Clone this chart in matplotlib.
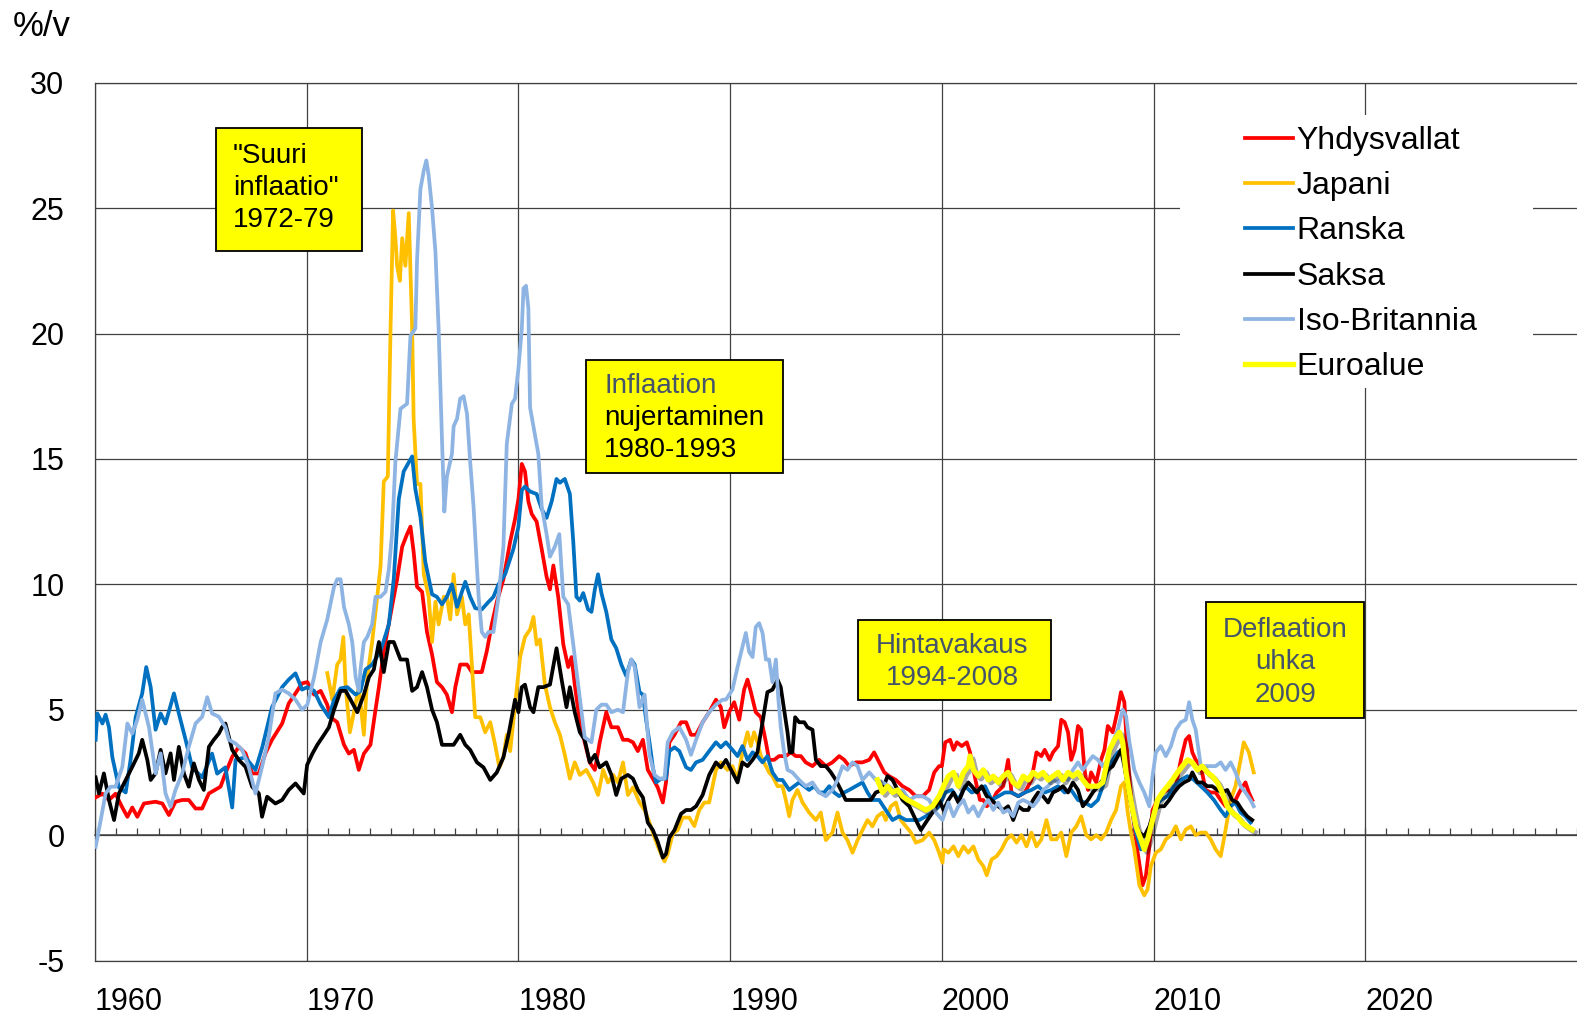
import matplotlib
matplotlib.use("Agg")
import matplotlib.pyplot as plt
import matplotlib.patheffects as pe
from matplotlib.patches import Rectangle
from matplotlib.ticker import MultipleLocator

plt.rcParams['font.family'] = ['Liberation Sans', 'DejaVu Sans']
plt.rcParams['axes.unicode_minus'] = False

# --- data (year, % per year) ---
us_t = [1960.03, 1960.35, 1960.66, 1960.97, 1961.29, 1961.53, 1961.76, 1962.0, 1962.31, 1962.86,
        1963.18, 1963.49, 1963.8, 1964.12, 1964.43, 1964.75, 1965.06, 1965.38, 1965.93, 1966.16,
        1966.48, 1966.79, 1967.11, 1967.42, 1967.74, 1968.05, 1968.36, 1968.84, 1969.15, 1969.47,
        1969.78, 1970.03, 1970.35, 1970.66, 1970.97, 1971.13, 1971.44, 1971.76, 1971.99, 1972.23,
        1972.46, 1972.7, 1973.01, 1973.25, 1973.41, 1973.64, 1973.96, 1974.27, 1974.51, 1974.74,
        1974.9, 1975.05, 1975.21, 1975.45, 1975.68, 1975.92, 1976.15, 1976.39, 1976.62, 1976.86,
        1977.02, 1977.25, 1977.57, 1977.8, 1978.04, 1978.27, 1978.51, 1978.74, 1978.98, 1979.29,
        1979.61, 1979.84, 1980.0, 1980.16, 1980.31, 1980.47, 1980.63, 1980.86, 1981.1, 1981.33,
        1981.49, 1981.65, 1981.88, 1982.12, 1982.35, 1982.51, 1982.66, 1982.9, 1983.13, 1983.37,
        1983.61, 1983.84, 1984.15, 1984.39, 1984.7, 1984.94, 1985.17, 1985.41, 1985.64, 1985.88,
        1986.11, 1986.35, 1986.58, 1986.82, 1986.97, 1987.13, 1987.37, 1987.68, 1987.92, 1988.15,
        1988.39, 1988.7, 1989.01, 1989.33, 1989.56, 1989.72, 1989.95, 1990.19, 1990.43, 1990.66,
        1990.82, 1990.98, 1991.21, 1991.45, 1991.69, 1991.84, 1992.08, 1992.31, 1992.63, 1992.87,
        1993.1, 1993.34, 1993.57, 1993.89, 1994.2, 1994.52, 1994.83, 1995.15, 1995.39, 1995.62,
        1995.94, 1996.25, 1996.57, 1996.8, 1997.04, 1997.28, 1997.51, 1997.83, 1998.14, 1998.46,
        1998.77, 1999.09, 1999.4, 1999.64, 1999.87, 2000.0, 2000.16, 2000.39, 2000.55, 2000.71,
        2000.94, 2001.18, 2001.33, 2001.49, 2001.65, 2001.8, 2001.96, 2002.12, 2002.35, 2002.59,
        2002.9, 2003.13, 2003.29, 2003.61, 2003.92, 2004.23, 2004.47, 2004.7, 2004.86, 2005.09,
        2005.25, 2005.49, 2005.64, 2005.8, 2005.96, 2006.11, 2006.27, 2006.43, 2006.58, 2006.74,
        2006.9, 2007.05, 2007.29, 2007.52, 2007.68, 2007.84, 2008.07, 2008.31, 2008.46, 2008.62,
        2008.78, 2009.01, 2009.25, 2009.48, 2009.64, 2009.8, 2009.95, 2010.19, 2010.42, 2010.66,
        2010.89, 2011.05, 2011.29, 2011.52, 2011.68, 2011.83, 2011.99, 2012.23, 2012.46, 2012.7,
        2012.93, 2013.17, 2013.4, 2013.64, 2013.87, 2014.11, 2014.34, 2014.5, 2014.66]
us_v = [1.5, 1.65, 1.4, 1.65, 1.1, 0.73, 1.1, 0.73, 1.26, 1.33,
        1.26, 0.8, 1.33, 1.4, 1.4, 1.06, 1.06, 1.66, 1.93, 2.46,
        3.12, 3.52, 3.26, 2.46, 2.46, 3.26, 3.8, 4.45, 5.25, 5.65,
        6.05, 6.1, 5.6, 5.75, 5.2, 4.7, 4.5, 3.6, 3.25, 3.4,
        2.6, 3.25, 3.6, 5.0, 5.9, 7.35, 8.8, 10.2, 11.5, 12.0,
        12.3, 11.3, 9.9, 9.7, 8.1, 7.2, 6.1, 5.9, 5.6, 4.9,
        5.9, 6.8, 6.8, 6.5, 6.5, 6.5, 7.35, 8.4, 9.3, 10.2,
        11.7, 12.6, 13.4, 14.8, 14.5, 13.3, 12.8, 12.5, 11.4, 10.3,
        9.8, 10.75, 9.5, 7.6, 6.7, 7.1, 6.0, 4.5, 3.7, 2.9,
        2.6, 3.7, 4.9, 4.3, 4.3, 3.8, 3.8, 3.7, 3.35, 3.8,
        2.6, 2.25, 1.9, 1.3, 2.1, 3.7, 4.0, 4.5, 4.5, 4.0,
        4.0, 4.5, 4.9, 5.4, 5.1, 4.3, 4.9, 5.3, 4.6, 5.8,
        6.2, 5.7, 4.9, 4.7, 3.7, 3.0, 3.0, 3.15, 3.15, 3.3,
        3.15, 3.15, 2.9, 2.75, 3.0, 2.75, 2.9, 3.15, 3.0, 2.75,
        2.9, 2.9, 3.0, 3.3, 2.9, 2.5, 2.35, 2.2, 1.95, 1.8,
        1.55, 1.55, 1.8, 2.5, 2.75, 2.75, 3.7, 3.8, 3.4, 3.7,
        3.55, 3.7, 3.3, 2.6, 1.95, 1.4, 1.4, 1.15, 1.3, 1.7,
        1.95, 3.0, 1.7, 1.55, 1.7, 2.2, 3.3, 3.15, 3.4, 3.0,
        3.3, 3.55, 4.6, 4.5, 4.1, 3.0, 3.4, 4.35, 4.2, 2.6,
        1.8, 2.5, 2.1, 3.0, 3.4, 4.35, 4.1, 5.0, 5.7, 5.3,
        3.0, 0.9, -0.7, -2.0, -1.6, -0.45, 1.0, 1.4, 1.7, 1.8,
        1.7, 1.95, 3.0, 3.8, 3.95, 3.3, 3.0, 2.75, 1.8, 1.7,
        1.7, 1.4, 1.15, 1.15, 1.4, 1.8, 2.1, 1.7, 1.4]

jp_t = [1970.97, 1971.21, 1971.44, 1971.6, 1971.73, 1971.84, 1972.04, 1972.23, 1972.46, 1972.7,
        1972.86, 1973.09, 1973.33, 1973.49, 1973.64, 1973.83, 1973.96, 1974.08, 1974.19, 1974.27,
        1974.4, 1974.51, 1974.66, 1974.82, 1974.9, 1974.98, 1975.05, 1975.21, 1975.37, 1975.53,
        1975.76, 1975.92, 1976.08, 1976.23, 1976.47, 1976.62, 1976.78, 1976.94, 1977.1, 1977.33,
        1977.49, 1977.65, 1977.8, 1977.96, 1978.2, 1978.43, 1978.67, 1978.9, 1979.1, 1979.29,
        1979.45, 1979.61, 1979.84, 1980.08, 1980.31, 1980.55, 1980.71, 1980.86, 1981.02, 1981.25,
        1981.49, 1981.72, 1981.96, 1982.19, 1982.43, 1982.66, 1982.9, 1983.21, 1983.53, 1983.76,
        1984.0, 1984.23, 1984.47, 1984.7, 1984.94, 1985.17, 1985.41, 1985.72, 1985.96, 1986.19,
        1986.43, 1986.66, 1986.9, 1987.05, 1987.29, 1987.52, 1987.76, 1988.07, 1988.31, 1988.54,
        1988.78, 1989.01, 1989.33, 1989.56, 1989.87, 1990.11, 1990.35, 1990.58, 1990.82, 1990.98,
        1991.13, 1991.29, 1991.45, 1991.69, 1991.84, 1992.0, 1992.24, 1992.47, 1992.63, 1992.79,
        1992.94, 1993.18, 1993.42, 1993.73, 1994.05, 1994.28, 1994.52, 1994.83, 1995.07, 1995.31,
        1995.54, 1995.78, 1996.02, 1996.25, 1996.49, 1996.72, 1996.96, 1997.2, 1997.35, 1997.59,
        1997.83, 1998.06, 1998.3, 1998.54, 1998.77, 1999.09, 1999.4, 1999.64, 1999.87, 2000.03,
        2000.08, 2000.31, 2000.55, 2000.78, 2001.02, 2001.25, 2001.49, 2001.72, 2001.96, 2002.12,
        2002.35, 2002.59, 2002.82, 2003.06, 2003.29, 2003.53, 2003.76, 2004.0, 2004.23, 2004.47,
        2004.7, 2004.94, 2005.17, 2005.41, 2005.64, 2005.88, 2006.11, 2006.35, 2006.58, 2006.82,
        2007.05, 2007.29, 2007.52, 2007.76, 2007.99, 2008.23, 2008.46, 2008.62, 2008.78, 2008.93,
        2009.09, 2009.33, 2009.56, 2009.72, 2009.87, 2010.11, 2010.34, 2010.58, 2010.82, 2011.05,
        2011.29, 2011.52, 2011.76, 2011.99, 2012.23, 2012.46, 2012.7, 2012.93, 2013.17, 2013.32,
        2013.48, 2013.64, 2013.87, 2014.11, 2014.26, 2014.5, 2014.73]
jp_v = [6.46, 5.4, 6.8, 7.0, 7.9, 5.9, 4.1, 4.9, 5.9, 4.0,
        6.3, 7.7, 9.5, 10.75, 14.1, 14.3, 20.2, 24.9, 23.8, 22.7,
        22.1, 23.8, 22.7, 24.8, 22.5, 20.2, 16.6, 14.0, 14.0, 10.4,
        9.5, 7.7, 9.3, 8.4, 9.5, 9.5, 8.6, 10.4, 8.8, 9.5,
        8.4, 8.8, 6.8, 4.7, 4.7, 4.1, 4.5, 3.6, 2.7, 3.1,
        4.0, 3.35, 5.2, 7.1, 7.9, 8.2, 8.7, 7.6, 7.8, 6.0,
        5.1, 4.5, 4.0, 3.2, 2.25, 2.9, 2.4, 2.6, 2.1, 1.6,
        2.6, 2.1, 2.4, 2.1, 2.9, 1.6, 1.9, 1.3, 1.0, 0.5,
        -0.1, -0.6, -1.05, -0.75, 0.05, 0.2, 0.7, 0.7, 0.36, 1.0,
        1.3, 1.3, 2.6, 2.9, 2.6, 2.75, 2.2, 3.3, 4.1, 3.55,
        4.1, 3.7, 3.15, 2.75, 2.5, 2.35, 1.95, 1.95, 1.4, 0.75,
        1.4, 1.8, 1.3, 0.9, 0.6, 0.9, -0.2, 0.1, 0.9, 0.1,
        -0.2, -0.7, -0.2, 0.2, 0.6, 0.35, 0.75, 0.9, 0.6, 1.15,
        1.3, 0.6, 0.35, 0.1, -0.3, -0.2, 0.1, -0.2, -0.7, -1.1,
        -0.57, -0.7, -0.45, -0.84, -0.45, -0.7, -0.45, -0.97, -1.24, -1.6,
        -0.97, -0.84, -0.57, -0.17, 0.0, -0.3, 0.0, -0.45, 0.1, -0.45,
        -0.17, 0.6, -0.17, -0.17, 0.1, -0.84, 0.1, 0.35, 0.75, 0.0,
        -0.17, 0.0, -0.17, 0.1, 0.6, 1.0, 1.95, 2.1, 0.9, 0.1,
        -0.57, -2.0, -2.4, -2.16, -1.24, -0.7, -0.57, -0.17, 0.0, 0.35,
        -0.17, 0.22, 0.35, 0.0, 0.1, 0.1, -0.17, -0.57, -0.84, -0.17,
        0.6, 1.4, 1.95, 3.0, 3.7, 3.3, 2.5]

fr_t = [1960.03, 1960.11, 1960.35, 1960.5, 1960.66, 1960.82, 1961.13, 1961.45, 1961.68, 1961.92,
        1962.23, 1962.42, 1962.63, 1962.86, 1963.1, 1963.33, 1963.73, 1963.96, 1964.28, 1964.59,
        1965.06, 1965.53, 1965.77, 1966.16, 1966.48, 1966.64, 1967.1, 1967.58, 1967.9, 1968.36,
        1968.84, 1969.15, 1969.47, 1969.78, 1970.03, 1970.35, 1970.66, 1971.05, 1971.29, 1971.6,
        1971.92, 1972.31, 1972.54, 1972.78, 1973.09, 1973.49, 1973.88, 1974.11, 1974.35, 1974.58,
        1974.98, 1975.13, 1975.37, 1975.6, 1975.92, 1976.15, 1976.39, 1976.62, 1976.86, 1977.1,
        1977.33, 1977.49, 1977.72, 1977.96, 1978.27, 1978.59, 1978.82, 1979.06, 1979.37, 1979.76,
        1980.0, 1980.16, 1980.31, 1980.55, 1980.86, 1981.1, 1981.33, 1981.57, 1981.8, 1981.96,
        1982.19, 1982.43, 1982.59, 1982.74, 1982.9, 1983.06, 1983.29, 1983.45, 1983.61, 1983.76,
        1983.92, 1984.15, 1984.39, 1984.62, 1984.86, 1985.09, 1985.33, 1985.49, 1985.72, 1985.88,
        1986.03, 1986.19, 1986.35, 1986.5, 1986.74, 1986.97, 1987.13, 1987.37, 1987.6, 1987.92,
        1988.15, 1988.39, 1988.7, 1989.01, 1989.33, 1989.56, 1989.8, 1990.11, 1990.35, 1990.58,
        1990.82, 1991.06, 1991.29, 1991.53, 1991.76, 1992.0, 1992.24, 1992.47, 1992.79, 1993.02,
        1993.26, 1993.5, 1993.73, 1993.97, 1994.2, 1994.44, 1994.68, 1994.91, 1995.15, 1995.39,
        1995.62, 1995.94, 1996.25, 1996.49, 1996.72, 1997.04, 1997.35, 1997.67, 1997.98, 1998.3,
        1998.61, 1998.93, 1999.24, 1999.56, 1999.87, 2000.16, 2000.47, 2000.78, 2001.1, 2001.41,
        2001.72, 2002.04, 2002.35, 2002.66, 2002.98, 2003.29, 2003.61, 2003.92, 2004.23, 2004.55,
        2004.86, 2005.17, 2005.49, 2005.8, 2006.11, 2006.43, 2006.74, 2007.05, 2007.37, 2007.6,
        2007.84, 2008.07, 2008.31, 2008.54, 2008.7, 2008.93, 2009.17, 2009.4, 2009.64, 2009.87,
        2010.11, 2010.34, 2010.66, 2010.97, 2011.29, 2011.6, 2011.91, 2012.23, 2012.54, 2012.85,
        2013.17, 2013.4, 2013.64, 2013.87, 2014.11, 2014.34, 2014.58]
fr_v = [3.8, 4.85, 4.45, 4.8, 4.3, 3.1, 1.9, 1.7, 3.0, 4.7,
        5.65, 6.7, 5.9, 4.2, 4.85, 4.45, 5.65, 4.85, 3.8, 2.7,
        2.3, 3.25, 2.45, 2.7, 1.1, 3.0, 3.1, 2.6, 3.5, 5.1,
        5.9, 6.2, 6.45, 5.8, 5.9, 5.75, 5.2, 4.7, 5.4, 5.85,
        5.9, 5.6, 5.75, 6.6, 6.8, 7.35, 8.4, 10.2, 13.4, 14.5,
        15.1, 13.8, 12.7, 10.9, 9.6, 9.5, 9.2, 9.5, 10.0, 9.1,
        9.7, 10.1, 9.5, 9.05, 9.0, 9.3, 9.5, 10.0, 10.4, 11.4,
        12.3, 13.75, 13.9, 13.7, 13.6, 13.0, 12.65, 13.3, 14.2, 14.05,
        14.2, 13.6, 11.7, 9.5, 9.35, 9.65, 9.0, 8.9, 9.8, 10.4,
        9.65, 8.9, 7.8, 7.45, 6.8, 6.35, 7.0, 6.8, 5.7, 5.6,
        4.6, 3.7, 2.7, 2.1, 2.25, 2.25, 3.35, 3.5, 3.35, 2.7,
        2.6, 2.9, 3.0, 3.35, 3.7, 3.5, 3.7, 3.4, 3.15, 3.55,
        3.0, 3.3, 3.15, 2.9, 3.15, 2.5, 2.2, 2.2, 1.8, 1.95,
        2.1, 1.95, 1.8, 1.95, 1.7, 1.7, 1.95, 1.7, 1.55, 1.7,
        1.8, 1.95, 2.1, 1.7, 1.4, 1.4, 1.0, 0.6, 0.75, 0.6,
        0.6, 0.6, 0.75, 0.9, 1.15, 1.7, 1.8, 1.4, 1.95, 1.7,
        1.8, 1.95, 1.4, 1.55, 1.7, 1.7, 1.55, 1.7, 1.8, 1.95,
        1.7, 1.8, 1.95, 1.7, 1.8, 1.4, 1.3, 1.15, 1.4, 1.95,
        2.6, 3.0, 3.3, 3.4, 2.6, 1.3, 0.1, -0.57, -0.45, 0.35,
        1.15, 1.4, 1.55, 1.95, 2.2, 2.35, 2.2, 1.95, 1.7, 1.4,
        1.0, 0.75, 1.15, 1.3, 0.9, 0.75, 0.5]

de_t = [1960.03, 1960.19, 1960.42, 1960.66, 1960.9, 1961.13, 1961.45, 1961.76, 1962.07, 1962.23,
        1962.47, 1962.63, 1962.86, 1963.1, 1963.33, 1963.57, 1963.73, 1963.96, 1964.2, 1964.43,
        1964.67, 1964.91, 1965.14, 1965.38, 1965.61, 1965.85, 1966.0, 1966.16, 1966.48, 1966.79,
        1967.11, 1967.42, 1967.74, 1967.89, 1968.13, 1968.52, 1968.84, 1969.15, 1969.47, 1969.86,
        1970.02, 1970.27, 1970.5, 1970.82, 1971.05, 1971.29, 1971.6, 1971.84, 1972.07, 1972.39,
        1972.7, 1972.94, 1973.17, 1973.41, 1973.64, 1973.88, 1974.11, 1974.43, 1974.74, 1974.98,
        1975.21, 1975.45, 1975.68, 1975.92, 1976.15, 1976.39, 1976.62, 1976.94, 1977.25, 1977.49,
        1977.72, 1978.04, 1978.35, 1978.67, 1978.98, 1979.29, 1979.53, 1979.84, 1980.0, 1980.16,
        1980.31, 1980.55, 1980.71, 1980.94, 1981.18, 1981.49, 1981.8, 1982.04, 1982.27, 1982.43,
        1982.66, 1982.9, 1983.13, 1983.37, 1983.61, 1983.84, 1984.15, 1984.39, 1984.62, 1984.86,
        1985.17, 1985.41, 1985.64, 1985.88, 1986.11, 1986.35, 1986.58, 1986.82, 1986.97, 1987.13,
        1987.37, 1987.68, 1987.92, 1988.15, 1988.39, 1988.7, 1989.01, 1989.33, 1989.56, 1989.8,
        1990.11, 1990.35, 1990.58, 1990.82, 1991.06, 1991.29, 1991.53, 1991.76, 1992.0, 1992.24,
        1992.39, 1992.55, 1992.71, 1992.82, 1992.94, 1993.07, 1993.26, 1993.5, 1993.65, 1993.89,
        1994.05, 1994.28, 1994.52, 1994.76, 1994.99, 1995.23, 1995.46, 1995.78, 1996.09, 1996.41,
        1996.65, 1996.88, 1997.2, 1997.43, 1997.67, 1997.91, 1998.14, 1998.46, 1998.77, 1999.01,
        1999.24, 1999.56, 1999.87, 2000.08, 2000.31, 2000.55, 2000.78, 2001.02, 2001.25, 2001.41,
        2001.65, 2001.88, 2002.12, 2002.35, 2002.66, 2002.9, 2003.13, 2003.37, 2003.61, 2003.84,
        2004.08, 2004.31, 2004.55, 2004.78, 2005.02, 2005.25, 2005.49, 2005.72, 2005.96, 2006.19,
        2006.43, 2006.66, 2006.9, 2007.13, 2007.37, 2007.6, 2007.84, 2008.07, 2008.31, 2008.46,
        2008.62, 2008.86, 2009.09, 2009.33, 2009.56, 2009.8, 2010.03, 2010.27, 2010.5, 2010.74,
        2010.97, 2011.21, 2011.44, 2011.68, 2011.83, 2012.07, 2012.3, 2012.54, 2012.77, 2013.01,
        2013.24, 2013.48, 2013.71, 2013.95, 2014.18, 2014.42, 2014.66]
de_v = [2.3, 1.66, 2.46, 1.4, 0.6, 1.66, 2.2, 2.72, 3.26, 3.8,
        3.0, 2.2, 2.46, 3.4, 2.46, 3.26, 2.2, 3.52, 2.46, 1.93,
        2.86, 2.2, 1.8, 3.52, 3.8, 4.05, 4.3, 4.45, 3.4, 3.0,
        2.72, 1.93, 1.66, 0.73, 1.53, 1.26, 1.4, 1.8, 2.06, 1.66,
        2.8, 3.25, 3.6, 4.0, 4.3, 5.0, 5.75, 5.75, 5.4, 4.9,
        5.6, 6.3, 6.6, 7.7, 6.5, 7.7, 7.7, 7.0, 7.0, 5.75,
        5.9, 6.5, 5.9, 5.0, 4.5, 3.6, 3.6, 3.6, 4.0, 3.6,
        3.4, 2.9, 2.7, 2.2, 2.5, 3.1, 4.0, 5.4, 4.9, 5.9,
        6.0, 5.1, 4.9, 5.9, 5.9, 6.0, 7.45, 6.2, 5.1, 5.9,
        4.9, 4.1, 3.8, 2.9, 3.2, 2.7, 2.9, 2.4, 1.6, 2.25,
        2.4, 2.25, 1.8, 1.5, 0.5, 0.2, -0.27, -0.9, -0.75, -0.1,
        0.2, 0.85, 1.0, 1.0, 1.15, 1.6, 2.4, 2.9, 2.7, 3.0,
        2.5, 2.1, 2.9, 2.75, 3.0, 3.3, 4.5, 5.7, 5.8, 6.2,
        5.9, 5.0, 4.1, 3.3, 3.3, 4.7, 4.5, 4.5, 4.3, 4.2,
        3.0, 2.75, 2.75, 2.5, 2.2, 1.8, 1.4, 1.4, 1.4, 1.4,
        1.4, 1.7, 1.8, 2.35, 2.2, 1.8, 1.4, 1.15, 0.6, 0.2,
        0.5, 0.9, 1.4, 1.0, 1.4, 1.7, 1.3, 1.8, 2.1, 1.95,
        1.7, 1.95, 1.55, 1.4, 1.15, 1.0, 1.15, 0.6, 1.15, 1.0,
        1.0, 1.4, 1.7, 1.55, 1.3, 1.7, 1.8, 1.95, 1.7, 2.1,
        1.8, 1.15, 1.4, 1.7, 1.95, 2.2, 2.6, 2.75, 3.15, 3.4,
        2.75, 1.55, 0.6, 0.1, -0.05, 0.35, 1.0, 1.15, 1.15, 1.4,
        1.7, 1.95, 2.1, 2.2, 2.5, 2.1, 2.1, 1.95, 1.95, 1.8,
        1.7, 1.8, 1.4, 1.3, 1.0, 0.75, 0.6]

uk_t = [1960.03, 1960.27, 1960.5, 1960.74, 1960.97, 1961.29, 1961.53, 1961.76, 1962.0, 1962.23,
        1962.55, 1962.86, 1963.1, 1963.33, 1963.57, 1963.8, 1964.12, 1964.43, 1964.75, 1965.06,
        1965.3, 1965.53, 1965.85, 1966.16, 1966.32, 1966.64, 1966.95, 1967.26, 1967.58, 1967.89,
        1968.21, 1968.52, 1968.84, 1969.15, 1969.47, 1969.78, 1970.03, 1970.35, 1970.66, 1970.97,
        1971.29, 1971.44, 1971.6, 1971.76, 1971.99, 1972.15, 1972.31, 1972.46, 1972.54, 1972.7,
        1972.86, 1973.09, 1973.25, 1973.49, 1973.72, 1973.88, 1974.03, 1974.19, 1974.43, 1974.74,
        1974.9, 1975.13, 1975.21, 1975.37, 1975.53, 1975.65, 1975.76, 1975.92, 1976.08, 1976.23,
        1976.39, 1976.5, 1976.62, 1976.86, 1976.94, 1977.1, 1977.25, 1977.41, 1977.57, 1977.72,
        1977.88, 1978.12, 1978.27, 1978.43, 1978.59, 1978.82, 1979.06, 1979.29, 1979.45, 1979.69,
        1979.84, 1980.0, 1980.16, 1980.24, 1980.36, 1980.47, 1980.55, 1980.71, 1980.94, 1981.1,
        1981.33, 1981.49, 1981.72, 1981.93, 1982.12, 1982.35, 1982.59, 1982.82, 1983.13, 1983.45,
        1983.68, 1983.92, 1984.15, 1984.39, 1984.7, 1984.94, 1985.17, 1985.33, 1985.49, 1985.72,
        1985.96, 1986.19, 1986.43, 1986.66, 1986.9, 1987.05, 1987.29, 1987.6, 1987.92, 1988.15,
        1988.39, 1988.7, 1989.01, 1989.33, 1989.64, 1989.8, 1990.11, 1990.35, 1990.58, 1990.74,
        1990.9, 1991.06, 1991.21, 1991.37, 1991.53, 1991.69, 1991.84, 1992.0, 1992.16, 1992.28,
        1992.39, 1992.55, 1992.71, 1992.94, 1993.26, 1993.57, 1993.89, 1994.2, 1994.52, 1994.83,
        1995.07, 1995.31, 1995.54, 1995.78, 1996.02, 1996.25, 1996.57, 1996.88, 1997.2, 1997.51,
        1997.83, 1998.14, 1998.46, 1998.77, 1999.09, 1999.4, 1999.72, 2000.03, 2000.31, 2000.55,
        2000.78, 2001.02, 2001.25, 2001.49, 2001.72, 2001.96, 2002.19, 2002.43, 2002.66, 2002.9,
        2003.13, 2003.37, 2003.61, 2003.84, 2004.08, 2004.31, 2004.55, 2004.78, 2005.02, 2005.25,
        2005.49, 2005.72, 2005.96, 2006.19, 2006.43, 2006.66, 2006.9, 2007.13, 2007.37, 2007.6,
        2007.84, 2008.07, 2008.31, 2008.54, 2008.7, 2008.86, 2009.09, 2009.33, 2009.56, 2009.8,
        2009.95, 2010.11, 2010.34, 2010.58, 2010.82, 2011.05, 2011.29, 2011.52, 2011.68, 2011.83,
        2011.99, 2012.23, 2012.46, 2012.7, 2012.93, 2013.17, 2013.4, 2013.64, 2013.87, 2014.11,
        2014.34, 2014.58, 2014.73]
uk_v = [-0.47, 0.6, 1.66, 1.93, 1.93, 2.72, 4.45, 4.05, 4.6, 5.4,
        4.3, 2.46, 3.26, 1.66, 1.13, 1.8, 2.46, 3.52, 4.45, 4.72,
        5.5, 4.85, 4.72, 4.3, 3.8, 3.65, 3.4, 2.72, 1.66, 2.72,
        3.92, 5.65, 5.8, 5.65, 5.4, 5.0, 5.2, 6.3, 7.7, 8.6,
        9.9, 10.2, 10.2, 9.1, 8.4, 7.7, 6.3, 5.75, 6.6, 7.7,
        7.9, 8.4, 9.5, 9.5, 9.7, 10.6, 12.0, 14.9, 17.0, 17.2,
        19.9, 20.2, 22.9, 25.75, 26.5, 26.9, 26.3, 25.0, 23.25, 20.2,
        15.75, 12.9, 14.3, 15.2, 16.3, 16.6, 17.4, 17.5, 16.8, 14.9,
        13.1, 9.5, 8.1, 7.9, 8.1, 8.1, 9.5, 11.5, 15.6, 17.2,
        17.4, 18.6, 20.2, 21.8, 21.9, 21.0, 17.05, 16.3, 15.2, 13.1,
        12.0, 11.1, 11.5, 12.0, 9.5, 9.2, 7.6, 6.0, 3.9, 3.7,
        5.0, 5.2, 5.2, 4.9, 5.0, 4.9, 6.5, 7.0, 6.7, 5.1,
        5.6, 3.2, 2.4, 2.25, 2.25, 3.7, 4.1, 4.3, 3.8, 3.2,
        3.8, 4.5, 4.9, 5.2, 5.4, 5.4, 5.8, 6.7, 7.5, 8.06,
        7.3, 7.1, 8.3, 8.45, 8.06, 7.0, 7.0, 6.1, 7.0, 5.4,
        4.3, 3.3, 2.6, 2.5, 2.2, 1.95, 2.1, 1.7, 1.55, 1.8,
        2.2, 2.75, 2.6, 2.9, 2.75, 2.2, 2.5, 2.2, 2.1, 1.95,
        1.7, 1.8, 1.4, 1.55, 1.55, 1.4, 0.9, 0.6, 1.3, 0.75,
        1.15, 1.4, 0.9, 1.15, 0.75, 1.15, 1.4, 1.0, 1.3, 0.9,
        1.0, 0.75, 1.3, 1.4, 1.3, 1.15, 1.4, 1.8, 1.95, 2.2,
        2.1, 2.35, 2.2, 2.6, 2.9, 2.6, 2.9, 3.15, 3.0, 2.75,
        3.0, 3.7, 4.2, 5.0, 4.75, 3.7, 2.6, 2.1, 1.7, 1.15,
        2.35, 3.3, 3.55, 3.15, 3.55, 4.2, 4.5, 4.6, 5.3, 4.6,
        4.2, 2.75, 2.75, 2.75, 2.75, 2.9, 2.6, 2.9, 2.5, 1.95,
        1.7, 1.4, 1.15]

ez_t = [1996.96, 1997.2, 1997.43, 1997.67, 1997.91, 1998.14, 1998.38, 1998.61, 1998.93, 1999.24,
        1999.56, 1999.87, 2000.08, 2000.31, 2000.55, 2000.78, 2001.02, 2001.25, 2001.33, 2001.49,
        2001.72, 2001.96, 2002.19, 2002.43, 2002.66, 2002.9, 2003.13, 2003.37, 2003.61, 2003.84,
        2004.08, 2004.31, 2004.55, 2004.78, 2005.02, 2005.25, 2005.49, 2005.72, 2005.96, 2006.19,
        2006.43, 2006.66, 2006.9, 2007.13, 2007.37, 2007.6, 2007.76, 2007.92, 2008.15, 2008.39,
        2008.54, 2008.7, 2008.86, 2009.01, 2009.17, 2009.4, 2009.56, 2009.72, 2009.95, 2010.19,
        2010.42, 2010.66, 2010.89, 2011.13, 2011.36, 2011.6, 2011.83, 2012.07, 2012.3, 2012.54,
        2012.77, 2013.01, 2013.24, 2013.48, 2013.71, 2013.95, 2014.18, 2014.42, 2014.66]
ez_v = [2.2, 1.7, 1.95, 1.7, 1.8, 1.55, 1.4, 1.3, 1.15, 1.0,
        1.15, 1.55, 1.95, 2.35, 2.5, 1.95, 2.5, 2.75, 3.15, 2.6,
        2.35, 2.6, 2.2, 2.35, 2.1, 2.35, 2.5, 2.1, 1.95, 2.35,
        2.2, 2.5, 2.35, 2.5, 2.2, 2.35, 2.5, 2.2, 2.5, 2.35,
        2.5, 2.2, 1.95, 1.95, 1.95, 2.1, 2.75, 3.4, 3.8, 4.1,
        3.7, 2.5, 1.7, 1.0, 0.35, -0.17, -0.57, -0.17, 0.6, 1.4,
        1.7, 1.95, 2.2, 2.5, 2.75, 3.0, 2.9, 2.6, 2.75, 2.5,
        2.35, 2.1, 1.7, 1.15, 0.9, 0.75, 0.5, 0.35, 0.22]

series = [
    ("Yhdysvallat", us_t, us_v, "#FF0000", 2.7),
    ("Japani", jp_t, jp_v, "#FFC000", 2.7),
    ("Ranska", fr_t, fr_v, "#0070C0", 2.7),
    ("Saksa", de_t, de_v, "#000000", 2.7),
    ("Iso-Britannia", uk_t, uk_v, "#8DB4E2", 2.7),
    ("Euroalue", ez_t, ez_v, "#FFFF00", 3.8),
]

W, H = 1577, 1016
fig = plt.figure(figsize=(W / 100, H / 100), dpi=100)
ax = fig.add_axes([95 / W, 55.5 / H, 1482 / W, 877.8 / H])

grid_c = "#404040"
ax.set_xlim(1960, 2030)
ax.set_ylim(-5, 30)
ax.set_yticks(range(-5, 31, 5))
ax.set_xticks(range(1960, 2030, 10))
ax.set_axisbelow(True)
ax.grid(True, color=grid_c, lw=0.9)
for s in ["left", "top", "bottom"]:
    ax.spines[s].set_color(grid_c)
    ax.spines[s].set_linewidth(0.9)
ax.spines["right"].set_visible(False)
ax.tick_params(axis="both", length=0, labelsize=22)
ax.tick_params(axis="y", pad=22)
ax.tick_params(axis="x", pad=19)
for lab in ax.get_xticklabels():
    lab.set_ha("left")

# axis line through zero with yearly ticks pointing up
zero = ax.secondary_xaxis(5 / 35)
zero.set_xticks(range(1960, 2031, 10))
zero.xaxis.set_minor_locator(MultipleLocator(1))
zero.tick_params(which="both", direction="in", length=5, width=0.9, color=grid_c, labelbottom=False)
zero.spines["bottom"].set_color(grid_c)
zero.spines["bottom"].set_linewidth(1.1)

for name, t, v, c, lw in series:
    kw = {}
    if name == "Euroalue":
        kw["path_effects"] = [pe.SimpleLineShadow(offset=(2, -2), shadow_color="k", alpha=0.35),
                              pe.Normal()]
    ax.plot(t, v, color=c, lw=lw, label=name, zorder=3, solid_joinstyle="round", **kw)

# legend on a white patch
ax.add_patch(Rectangle((0.732, 0.652), 0.238, 0.311, transform=ax.transAxes,
                       facecolor="white", edgecolor="none", zorder=2.5))
leg = ax.legend(loc="upper left", bbox_to_anchor=(0.776, 0.951), frameon=False, fontsize=23,
                handlelength=1.5, handletextpad=0.12, labelspacing=0.48, borderpad=0,
                borderaxespad=0)
for ln in leg.get_lines():
    ln.set_path_effects([])

# yellow comment boxes
def box(x0, y0, x1, y1):
    ax.add_patch(Rectangle((x0, y0), x1 - x0, y1 - y0, transform=ax.transAxes,
                           facecolor="#FFFF00", edgecolor="black", lw=1.3, zorder=6))

blue_grey = "#44546A"
box(0.0816, 0.8083, 0.180, 0.9484)
ax.text(0.0931, 0.8800, '"Suuri\ninflaatio"\n1972-79', transform=ax.transAxes, fontsize=20,
        ha="left", va="center", linespacing=1.31, zorder=7)

box(0.3313, 0.5554, 0.4642, 0.6841)
ax.text(0.3435, 0.6545, "Inflaation", transform=ax.transAxes, fontsize=20, color=blue_grey,
        ha="left", va="center", zorder=7)
ax.text(0.3435, 0.5995, "nujertaminen\n1980-1993", transform=ax.transAxes, fontsize=20,
        ha="left", va="center", linespacing=1.31, zorder=7)

box(0.5148, 0.2968, 0.6451, 0.3879)
ax.text(0.5783, 0.3400, "Hintavakaus\n1994-2008", transform=ax.transAxes, fontsize=20,
        color=blue_grey, ha="center", va="center", linespacing=1.31, zorder=7)

box(0.7497, 0.2763, 0.8563, 0.4084)
ax.text(0.8033, 0.3395, "Deflaation\nuhka\n2009", transform=ax.transAxes, fontsize=20,
        color=blue_grey, ha="center", va="center", linespacing=1.31, zorder=7)

fig.text(13 / W, 1 - 27 / H, "%/v", fontsize=25, ha="left", va="center")

fig.savefig("out.png", dpi=100)
